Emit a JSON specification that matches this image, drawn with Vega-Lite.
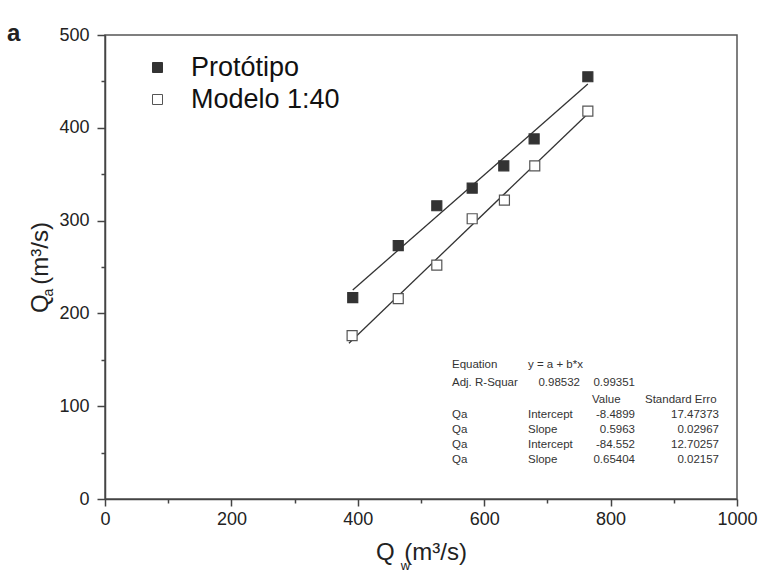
{
  "$schema": "https://vega.github.io/schema/vega-lite/v6.json",
  "width": 632,
  "height": 464,
  "autosize": {"type": "none"},
  "padding": {"left": 105, "top": 35, "right": 22, "bottom": 75},
  "background": "white",
  "config": {
    "font": "Liberation Sans",
    "view": {"stroke": "#555555", "strokeWidth": 1.5},
    "legend": {
      "orient": "none",
      "legendX": 39,
      "legendY": 19,
      "title": null,
      "padding": 0,
      "labelFont": "Liberation Sans",
      "labelFontSize": 27,
      "labelColor": "#111111",
      "labelOffset": 20,
      "rowPadding": 4,
      "symbolSize": 100,
      "symbolType": "square",
      "symbolStrokeWidth": 1
    }
  },
  "title": {
    "text": "a",
    "anchor": "start",
    "frame": "group",
    "font": "Liberation Sans",
    "fontSize": 24,
    "fontWeight": "bold",
    "color": "#222222",
    "dx": -98,
    "dy": 20,
    "offset": 0
  },
  "datasets": {
    "puntos": [
      {"serie": "Protótipo", "Qw": 392, "Qa": 217},
      {"serie": "Protótipo", "Qw": 464, "Qa": 273},
      {"serie": "Protótipo", "Qw": 525, "Qa": 316},
      {"serie": "Protótipo", "Qw": 581, "Qa": 335},
      {"serie": "Protótipo", "Qw": 631, "Qa": 359},
      {"serie": "Protótipo", "Qw": 679, "Qa": 388},
      {"serie": "Protótipo", "Qw": 764, "Qa": 455},
      {"serie": "Modelo 1:40", "Qw": 391, "Qa": 176},
      {"serie": "Modelo 1:40", "Qw": 464, "Qa": 216},
      {"serie": "Modelo 1:40", "Qw": 525, "Qa": 252},
      {"serie": "Modelo 1:40", "Qw": 581, "Qa": 302},
      {"serie": "Modelo 1:40", "Qw": 632, "Qa": 322},
      {"serie": "Modelo 1:40", "Qw": 680, "Qa": 359},
      {"serie": "Modelo 1:40", "Qw": 764, "Qa": 418}
    ],
    "ajustes": [
      {"serie": "Protótipo", "Qw": 392, "Qa": 225.26},
      {"serie": "Protótipo", "Qw": 764, "Qa": 447.08},
      {"serie": "Modelo 1:40", "Qw": 386, "Qa": 167.91},
      {"serie": "Modelo 1:40", "Qw": 764, "Qa": 415.13}
    ],
    "tabla": [
      {"fila": 1, "col": 1, "texto": "Equation"},
      {"fila": 1, "col": 2, "texto": "y = a + b*x"},
      {"fila": 2, "col": 1, "texto": "Adj. R-Squar"},
      {"fila": 2, "col": 3, "texto": "0.98532"},
      {"fila": 2, "col": 5, "texto": "0.99351"},
      {"fila": 3, "col": 4, "texto": "Value"},
      {"fila": 3, "col": 6, "texto": "Standard Erro"},
      {"fila": 4, "col": 1, "texto": "Qa"},
      {"fila": 4, "col": 2, "texto": "Intercept"},
      {"fila": 4, "col": 5, "texto": "-8.4899"},
      {"fila": 4, "col": 7, "texto": "17.47373"},
      {"fila": 5, "col": 1, "texto": "Qa"},
      {"fila": 5, "col": 2, "texto": "Slope"},
      {"fila": 5, "col": 5, "texto": "0.5963"},
      {"fila": 5, "col": 7, "texto": "0.02967"},
      {"fila": 6, "col": 1, "texto": "Qa"},
      {"fila": 6, "col": 2, "texto": "Intercept"},
      {"fila": 6, "col": 5, "texto": "-84.552"},
      {"fila": 6, "col": 7, "texto": "12.70257"},
      {"fila": 7, "col": 1, "texto": "Qa"},
      {"fila": 7, "col": 2, "texto": "Slope"},
      {"fila": 7, "col": 5, "texto": "0.65404"},
      {"fila": 7, "col": 7, "texto": "0.02157"}
    ]
  },
  "layer": [
    {
      "layer": [
        {
          "data": {"name": "ajustes"},
          "mark": {"type": "line", "color": "#333333", "strokeWidth": 1.3},
          "encoding": {
            "x": {
              "field": "Qw",
              "type": "quantitative",
              "scale": {"domain": [0, 1000], "nice": false, "zero": false},
              "axis": {
                "title": "Q\u2009\u2009(m³/s)",
                "values": [0, 100, 200, 300, 400, 500, 600, 700, 800, 900, 1000],
                "format": "d",
                "labelExpr": "datum.value % 200 === 0 ? datum.label : ''",
                "labelOverlap": false,
                "labelFlush": false,
                "labelBound": false,
                "grid": false,
                "domainColor": "#444444",
                "domainWidth": 1.5,
                "tickColor": "#444444",
                "tickWidth": 1.5,
                "tickSize": {"condition": {"test": "datum.value % 200 === 0", "value": 7}, "value": 4},
                "labelFont": "Liberation Sans",
                "labelFontSize": 18,
                "labelColor": "#222222",
                "labelPadding": 4,
                "titleFont": "Liberation Sans",
                "titleFontSize": 24,
                "titleFontWeight": "normal",
                "titleColor": "#222222",
                "titlePadding": 12
              }
            },
            "y": {
              "field": "Qa",
              "type": "quantitative",
              "scale": {"domain": [0, 500], "nice": false, "zero": false},
              "axis": {
                "title": "Q\u2009\u2009(m³/s)",
                "values": [0, 50, 100, 150, 200, 250, 300, 350, 400, 450, 500],
                "format": "d",
                "labelExpr": "datum.value % 100 === 0 ? datum.label : ''",
                "labelOverlap": false,
                "labelFlush": false,
                "labelBound": false,
                "grid": false,
                "domainColor": "#444444",
                "domainWidth": 1.5,
                "tickColor": "#444444",
                "tickWidth": 1.5,
                "tickSize": {"condition": {"test": "datum.value % 100 === 0", "value": 8}, "value": 4},
                "labelFont": "Liberation Sans",
                "labelFontSize": 18,
                "labelColor": "#222222",
                "labelPadding": 8,
                "titleFont": "Liberation Sans",
                "titleFontSize": 24,
                "titleFontWeight": "normal",
                "titleColor": "#222222",
                "titleX": -65,
                "titleBaseline": "middle"
              }
            },
            "detail": {"field": "serie", "type": "nominal"}
          }
        },
        {
          "data": {"name": "puntos"},
          "mark": {"type": "point", "shape": "square", "filled": true, "size": 100, "strokeWidth": 1.2, "opacity": 1},
          "encoding": {
            "x": {"field": "Qw", "type": "quantitative"},
            "y": {"field": "Qa", "type": "quantitative"},
            "fill": {
              "field": "serie",
              "type": "nominal",
              "sort": null,
              "scale": {"domain": ["Protótipo", "Modelo 1:40"], "range": ["#333333", "#ffffff"]}
            },
            "stroke": {
              "field": "serie",
              "type": "nominal",
              "sort": null,
              "scale": {"domain": ["Protótipo", "Modelo 1:40"], "range": ["#333333", "#555555"]}
            }
          }
        }
      ]
    },
    {
      "data": {"name": "tabla"},
      "encoding": {
        "x": {
          "field": "col",
          "type": "quantitative",
          "scale": {
            "domain": [1, 2, 3, 4, 5, 6, 7],
            "range": [347, 423, 475, 487, 530, 540, 614],
            "nice": false,
            "zero": false
          },
          "axis": {
            "orient": "bottom",
            "title": "w",
            "values": [],
            "domain": false,
            "ticks": false,
            "labels": false,
            "grid": false,
            "titleFont": "Liberation Sans",
            "titleFontSize": 13,
            "titleFontWeight": "normal",
            "titleColor": "#222222",
            "titleX": 300,
            "titleY": 70,
            "titleAlign": "center",
            "titleBaseline": "alphabetic"
          }
        },
        "y": {
          "field": "fila",
          "type": "quantitative",
          "scale": {
            "domain": [1, 2, 3, 4, 5, 6, 7],
            "range": [330, 348, 365, 380, 395, 410, 425],
            "nice": false,
            "zero": false
          },
          "axis": {
            "orient": "left",
            "title": "a",
            "values": [],
            "domain": false,
            "ticks": false,
            "labels": false,
            "grid": false,
            "titleFont": "Liberation Sans",
            "titleFontSize": 14,
            "titleFontWeight": "normal",
            "titleColor": "#222222",
            "titleAngle": -90,
            "titleX": -57,
            "titleY": 257,
            "titleAlign": "center",
            "titleBaseline": "middle"
          }
        },
        "text": {"field": "texto", "type": "nominal"}
      },
      "layer": [
        {
          "transform": [{"filter": {"field": "col", "oneOf": [1, 2, 4, 6]}}],
          "mark": {"type": "text", "align": "left", "baseline": "middle", "font": "Liberation Sans", "fontSize": 11.5, "color": "#333333"}
        },
        {
          "transform": [{"filter": {"field": "col", "oneOf": [3, 5, 7]}}],
          "mark": {"type": "text", "align": "right", "baseline": "middle", "font": "Liberation Sans", "fontSize": 11.5, "color": "#333333"}
        }
      ]
    }
  ],
  "resolve": {
    "scale": {"x": "independent", "y": "independent"},
    "axis": {"x": "independent", "y": "independent"}
  }
}
